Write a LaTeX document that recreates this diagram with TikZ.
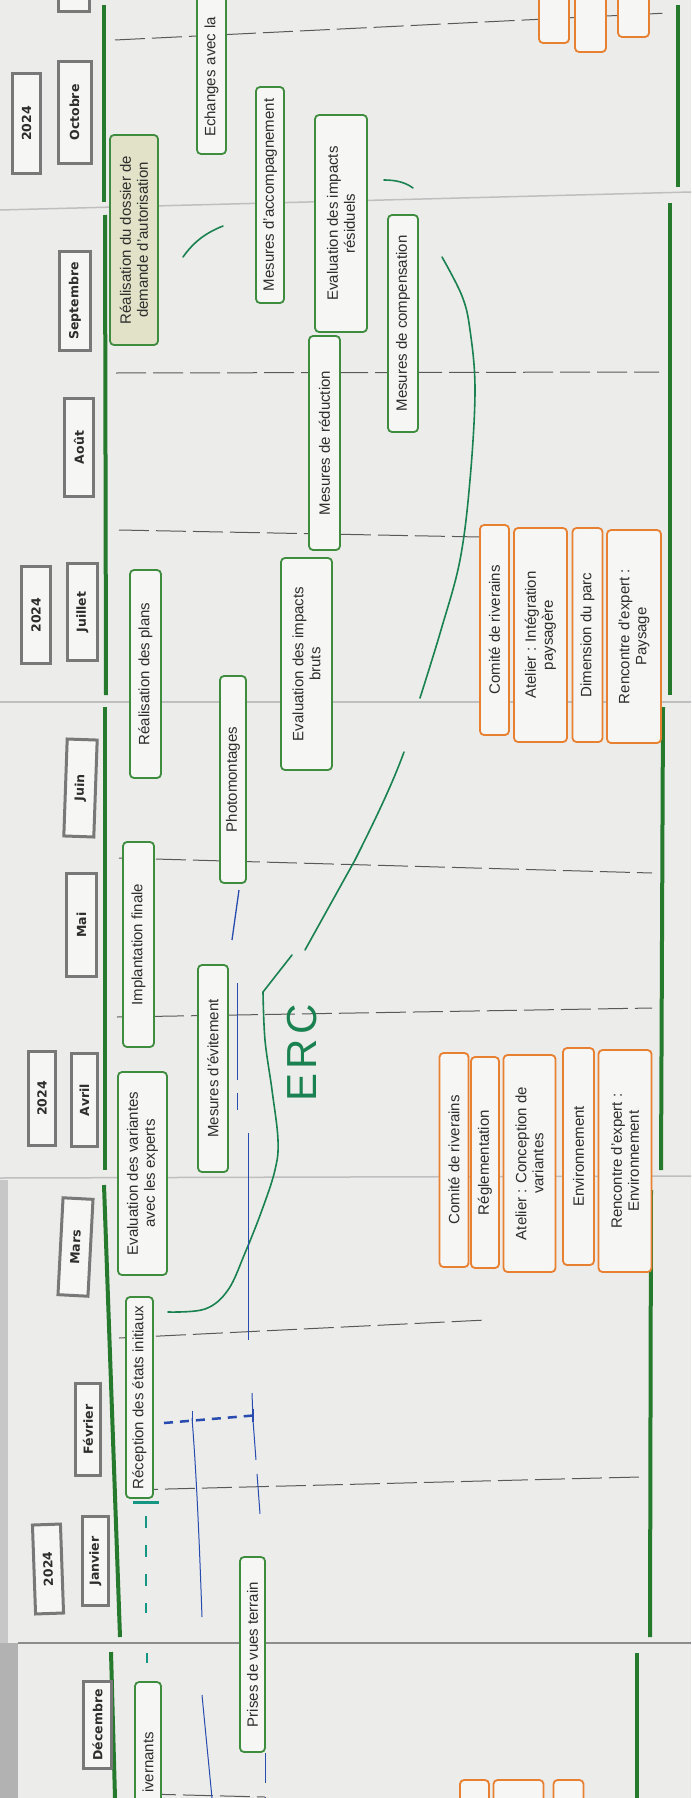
\documentclass[tikz,border=0pt]{standalone}
\usepackage{fontspec}
\setmainfont{Liberation Sans}
\newfontfamily\mfont{DejaVu Sans}
\definecolor{paper}{RGB}{236,236,234}
\definecolor{boxfill}{RGB}{246,246,244}
\definecolor{lgreen}{RGB}{38,122,46}
\definecolor{bgreen}{RGB}{62,140,62}
\definecolor{orng}{RGB}{232,128,50}
\definecolor{mgray}{RGB}{120,120,120}
\definecolor{txt}{RGB}{45,45,45}
\definecolor{pen}{RGB}{25,130,80}
\definecolor{blu}{RGB}{40,75,175}
\definecolor{tealpen}{RGB}{20,150,130}
\definecolor{beige}{RGB}{226,226,200}
\tikzset{
 gb/.style={draw=bgreen, line width=1.8pt, fill=boxfill, rounded corners=4pt, rotate=90, inner sep=0pt, text=txt, font=\fontsize{15}{17}\selectfont, align=center},
 ob/.style={gb, draw=orng},
 mb/.style={draw=mgray, line width=3pt, fill=boxfill, rotate=90, inner sep=0pt, text=txt, font=\mfont\bfseries\fontsize{12.5}{14}\selectfont},
 vl/.style={draw=lgreen, line width=4pt},
 dv/.style={draw=black!65, line width=1pt, dash pattern=on 30pt off 7pt},
 sm/.style={draw=black!25, line width=1.5pt},
 pn/.style={draw=pen, line width=1.6pt, line cap=round},
 bl/.style={draw=blu, line width=1pt},
}
\begin{document}
\begin{tikzpicture}[x=1pt,y=-1pt]
\useasboundingbox (0,0) rectangle (691,1798);
\begin{scope}
\clip (0,0) rectangle (691,1798);
\fill[paper] (0,0) rectangle (691,1798);
\fill[black!22] (0,1180) rectangle (8,1643);
\fill[black!30] (0,1643) rectangle (18,1798);
% paper seams
\draw[sm] (0,210) -- (691,192);
\draw[sm] (0,702) -- (691,702);
\draw[sm] (0,1178) -- (691,1176);
\draw[black!45, line width=2.5pt] (18,1643) -- (691,1643);
% month dividers
\draw[dv] (115,40) -- (668,13);
\draw[dv] (116,373) -- (659,372);
\draw[dv] (119,530) -- (480,537);
\draw[dv] (119,858) -- (652,873);
\draw[dv] (117,1017) -- (652,1008);
\draw[dv] (119,1338) -- (486,1320);
\draw[dv] (128,1490) -- (639,1477);
\draw[dv] (146,1794) -- (265,1797);
% green frame lines
\draw[vl] (104,5) -- (104,202);
\draw[vl] (105,215) -- (106,695);
\draw[vl] (105,707) -- (105,1170);
\draw[vl] (104,1185) -- (120,1637);
\draw[vl] (111,1652) -- (115,1798);
\draw[vl] (678,5) -- (678,187);
\draw[vl] (670,203) -- (670,695);
\draw[vl] (663,707) -- (661,1170);
\draw[vl] (651,1190) -- (650,1637);
\draw[vl] (637,1653) -- (637,1798);
% pen marks
\draw[pn] plot[smooth, tension=0.6] coordinates {(168,1312) (205,1309) (228,1290) (245,1253) (262,1210) (275,1170) (278,1140) (272,1090) (265,1040) (263,992)} -- (292,955);
\draw[pn] (305,950) -- (355,860) .. controls (375,820) and (392,785) .. (404,752);
\draw[pn] plot[smooth, tension=0.6] coordinates {(420,698) (441,630) (460,560) (470,480) (475,390) (470,330) (462,296) (442,257)};
\draw[pn] (183,257) .. controls (195,240) and (208,232) .. (223,226);
\draw[pn] (384,180) .. controls (395,180) and (405,182) .. (413,188);
\draw[tealpen, line width=3pt] (133,1502) -- (159,1502);
\draw[tealpen, line width=2.5pt, dash pattern=on 12pt off 17pt] (146,1516) -- (146,1613);
\draw[tealpen, line width=2.5pt] (147,1653) -- (147,1663);
\draw[blu, line width=2.5pt, dash pattern=on 9pt off 7pt] (164,1423) -- (259,1415);
\draw[bl] (192,1411) -- (192,1425);
\draw[blu, line width=2pt] (253,1409) -- (253,1422);
\draw[bl] (192,1418) .. controls (197,1480) and (200,1560) .. (202,1617);
\draw[bl] (202,1695) -- (212,1798);
\draw[bl] (252,1393) -- (253,1420);
\draw[bl, dash pattern=on 40pt off 14pt] (253,1420) -- (261,1527);
\draw[bl, dash pattern=on 30pt off 14pt] (265,1753) -- (265,1798);
\draw[bl] (248,1133) -- (248,1340);
\draw[bl, line width=1.3pt] (239,890) -- (232,940);
\draw[bl] (237,983) -- (237,1080);
\draw[bl] (237,1093) -- (237,1110);
\node[rotate=90, text=pen, font=\fontsize{42}{42}\selectfont\addfontfeature{LetterSpace=10}] (erc) at (302,1053) {ERC};
% month boxes
\node[mb, minimum width=72pt, minimum height=31pt] (nov) at (74,-24) {};
\node[mb, minimum width=100pt, minimum height=28pt] (y1) at (26.5,123.5) {2024};
\node[mb, minimum width=102pt, minimum height=33pt] (oct) at (74.5,112.5) {Octobre};
\node[mb, minimum width=99pt, minimum height=31pt] (sep) at (75,301) {Septembre};
\node[mb, minimum width=98pt, minimum height=29pt] (aou) at (79,447.5) {Août};
\node[mb, minimum width=97pt, minimum height=29pt] (y2) at (36,615) {2024};
\node[mb, minimum width=97pt, minimum height=30pt] (jul) at (82.5,612) {Juillet};
\node[mb, minimum width=97pt, minimum height=30pt, rotate=-2] (jun) at (80.5,788) {Juin};
\node[mb, minimum width=103pt, minimum height=30pt] (mai) at (81.5,925) {Mai};
\node[mb, minimum width=94pt, minimum height=27pt] (y3) at (42,1098.5) {2024};
\node[mb, minimum width=93pt, minimum height=26pt] (avr) at (84.5,1100) {Avril};
\node[mb, minimum width=97pt, minimum height=30pt, rotate=-3] (mar) at (75.5,1247) {Mars};
\node[mb, minimum width=92pt, minimum height=25pt] (fev) at (88,1429.5) {Février};
\node[mb, minimum width=89pt, minimum height=28pt, rotate=2] (y4) at (48,1569) {2024};
\node[mb, minimum width=89pt, minimum height=26pt] (jan) at (95.5,1561) {Janvier};
\node[mb, minimum width=87pt, minimum height=28pt] (dec) at (97.5,1725) {Décembre};
% green boxes
\node[gb, minimum width=194pt, minimum height=29pt, text width=160pt, inner xsep=17pt, align=left] (ech) at (211.5,57) {Echanges avec la};
\node[gb, fill=beige, minimum width=210pt, minimum height=48pt] (dos) at (134,240) {Réalisation du dossier de\\demande d'autorisation};
\node[gb, minimum width=216pt, minimum height=28pt] (acc) at (270,195) {Mesures d'accompagnement};
\node[gb, minimum width=217pt, minimum height=52pt] (res) at (341,223.5) {Evaluation des impacts\\résiduels};
\node[gb, minimum width=217pt, minimum height=30pt] (cmp) at (403,323.5) {Mesures de compensation};
\node[gb, minimum width=214pt, minimum height=31pt] (red) at (324.5,443) {Mesures de réduction};
\node[gb, minimum width=208pt, minimum height=31pt] (pla) at (145.5,674) {Réalisation des plans};
\node[gb, minimum width=212pt, minimum height=51pt] (bru) at (306.5,664) {Evaluation des impacts\\bruts};
\node[gb, minimum width=207pt, minimum height=26pt] (pho) at (233,779.5) {Photomontages};
\node[gb, minimum width=205pt, minimum height=31pt] (imp) at (138.5,944.5) {Implantation finale};
\node[gb, minimum width=207pt, minimum height=30pt] (evi) at (213,1068.5) {Mesures d'évitement};
\node[gb, minimum width=203pt, minimum height=49pt] (var) at (142.5,1173.5) {Evaluation des variantes\\avec les experts};
\node[gb, minimum width=201pt, minimum height=27pt] (rec) at (139.5,1397.5) {Réception des états initiaux};
\node[gb, minimum width=195pt, minimum height=25pt] (pri) at (252.5,1654.5) {Prises de vues terrain};
\node[gb, minimum width=168pt, minimum height=26pt, text width=68pt, inner xsep=50pt, align=right] (hiv) at (148,1766) {ivernants};
% orange boxes
\node[ob, minimum width=63pt, minimum height=30pt] (t1) at (554,11.5) {};
\node[ob, minimum width=72pt, minimum height=31pt] (t2) at (590.5,16) {};
\node[ob, minimum width=57pt, minimum height=31pt] (t3) at (633.5,8.5) {};
\node[ob, minimum width=210pt, minimum height=29pt] (cr1) at (494.5,630) {Comité de riverains};
\node[ob, minimum width=214pt, minimum height=53pt] (at1) at (540.5,635) {Atelier : Intégration\\paysagère};
\node[ob, minimum width=214pt, minimum height=30pt] (dim) at (587.5,635) {Dimension du parc};
\node[ob, minimum width=213pt, minimum height=54pt] (re1) at (634,636.5) {Rencontre d'expert :\\Paysage};
\node[ob, minimum width=214pt, minimum height=29pt] (cr2) at (454,1160) {Comité de riverains};
\node[ob, minimum width=211pt, minimum height=28pt] (reg) at (485,1162.5) {Réglementation};
\node[ob, minimum width=217pt, minimum height=52pt] (at2) at (529.5,1163.5) {Atelier : Conception de\\variantes};
\node[ob, minimum width=217pt, minimum height=31pt] (env) at (578.5,1156.5) {Environnement};
\node[ob, minimum width=222pt, minimum height=53pt] (re2) at (625,1161) {Rencontre d'expert :\\Environnement};
\node[ob, minimum width=50pt, minimum height=29pt] (b1) at (474.5,1805) {};
\node[ob, minimum width=50pt, minimum height=50pt] (b2) at (518.5,1805) {};
\node[ob, minimum width=50pt, minimum height=30pt] (b3) at (568.5,1805) {};
\end{scope}
\end{tikzpicture}
\end{document}
